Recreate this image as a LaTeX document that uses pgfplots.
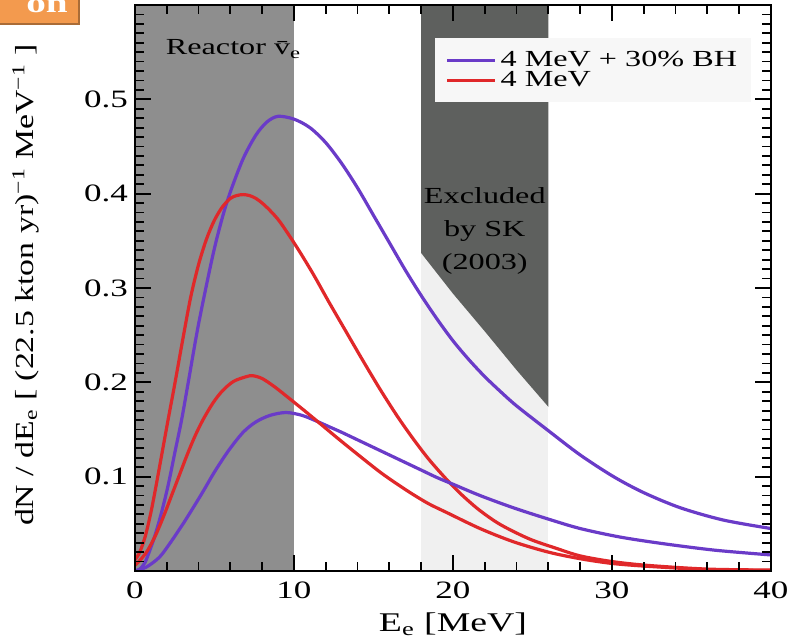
\documentclass[border=0pt]{standalone}
\usepackage{fontspec}
\setmainfont[FakeStretch=1.4]{Liberation Serif}
\newfontfamily\ylabfont[FakeStretch=1.3]{Liberation Serif}
\usepackage{pgfplots}
\usepackage{pgfplotstable}
\pgfplotsset{compat=1.18}

\definecolor{bhpurple}{HTML}{6A3BC8}
\definecolor{snred}{HTML}{E0282A}
\definecolor{reactorgray}{HTML}{8E8E8E}
\definecolor{skdark}{HTML}{5E605E}
\definecolor{sklight}{HTML}{F0F0F0}
\definecolor{tagorange}{HTML}{F39A4E}

% 4 MeV + 30% BH, upper curve
\pgfplotstableread{
x y
0 0
0.3 0.002
0.63 0.009
1.0 0.025
1.3 0.040
1.7 0.064
2.1 0.092
2.5 0.125
2.94 0.161
3.35 0.200
4.0 0.262
4.9 0.335
5.5 0.375
6.0 0.402
6.8 0.437
7.6 0.462
8.3 0.476
9.0 0.482
10 0.479
11 0.470
12 0.454
13 0.432
14 0.406
15 0.377
16 0.348
17 0.319
18 0.292
19 0.267
20 0.244
21 0.224
22 0.206
23 0.190
24 0.175
25.9 0.150
28 0.123
30.1 0.100
32 0.083
34.3 0.067
37 0.054
40 0.045
}\purpleHigh

% 4 MeV + 30% BH, lower curve
\pgfplotstableread{
x y
0 0
0.7 0.004
1.5 0.014
2.1 0.027
3.1 0.052
4.2 0.082
5.0 0.105
5.9 0.128
6.8 0.147
7.6 0.158
8.5 0.165
9.5 0.168
10.5 0.165
11.4 0.159
12.2 0.153
13 0.147
14 0.139
15 0.131
16 0.123
17 0.115
18 0.107
19 0.099
20 0.092
21.7 0.080
23.8 0.067
26 0.055
28 0.045
30.5 0.036
33.2 0.029
36.5 0.022
40 0.017
}\purpleLow

% 4 MeV, upper curve
\pgfplotstableread{
x y
0 0.012
0.3 0.020
0.65 0.037
1.0 0.062
1.3 0.088
1.7 0.125
2.1 0.162
2.5 0.198
3.0 0.245
3.5 0.290
4.0 0.325
4.5 0.352
5.0 0.372
5.5 0.386
6.0 0.395
6.4 0.398
6.8 0.399
7.2 0.398
7.6 0.395
8.0 0.390
8.5 0.382
9.12 0.370
10.15 0.344
11.2 0.315
12.2 0.285
13.3 0.253
14.3 0.224
15.4 0.193
16.5 0.164
17.5 0.140
18.5 0.118
19.6 0.097
20.6 0.080
21.7 0.064
23 0.049
24.8 0.034
26.5 0.024
28 0.016
30 0.010
32.2 0.006
36 0.002
40 0.001
}\redHigh

% 4 MeV, lower curve
\pgfplotstableread{
x y
0 0.006
0.4 0.013
0.8 0.022
1.3 0.038
1.8 0.058
2.3 0.080
2.8 0.102
3.3 0.124
3.8 0.144
4.3 0.161
4.9 0.178
5.5 0.191
6.2 0.201
7.0 0.206
7.4 0.207
8.0 0.204
8.8 0.195
9.7 0.183
10.8 0.168
11.8 0.154
12.8 0.140
13.9 0.125
15.4 0.105
16.5 0.092
17.5 0.081
18.5 0.071
19.6 0.062
21.7 0.045
23.8 0.031
26 0.020
28 0.013
30 0.008
32.2 0.005
36 0.0015
40 0.0005
}\redLow

\begin{document}
\begin{tikzpicture}
\useasboundingbox (-67.5pt,-35pt) rectangle (327pt,285.5pt);
\begin{axis}[
  at={(0,0)}, anchor=south west,
  scale only axis,
  width=318pt, height=283pt,
  xmin=0, xmax=40, ymin=0, ymax=0.6,
  xtick={0,10,20,30,40},
  ytick={0,0.1,0.2,0.3,0.4,0.5,0.6},
  yticklabels={,0.1,0.2,0.3,0.4,0.5,},
  minor x tick num=4,
  minor y tick num=9,
  tick align=inside,
  major tick length=8pt,
  minor tick length=4.5pt,
  every tick/.style={black, line width=0.9pt},
  axis line style={line width=1pt},
  /pgf/number format/assume math mode=true,
  ticklabel style={font=\fontsize{12.5}{13}\selectfont},
  xticklabel style={yshift=-2pt},
  xlabel={E\textsubscript{e} [MeV]},
  xlabel style={font=\fontsize{13.5}{14}\selectfont, at={(axis description cs:0.5,0)}, anchor=center, yshift=-26.5pt},
  ylabel={dN / dE\textsubscript{e} [ (22.5 kton yr)\textsuperscript{−1} MeV\textsuperscript{−1} ]},
  ylabel style={font=\ylabfont\fontsize{13}{14}\selectfont, at={(axis description cs:-0.172,0.505)}, anchor=center},
  axis on top,
  legend style={at={(axis cs:18.87,0.565)}, anchor=north west, fill=gray!6, draw=none,
    font=\fontsize{11.5}{10}\selectfont, inner xsep=5pt, inner ysep=6pt,
    nodes={inner ysep=0pt, text height=7.8pt, text depth=2.2pt}},
  legend cell align=left,
  legend image code/.code={\draw[#1] (0pt,0pt) -- (24pt,0pt);},
]
% shaded regions
\addplot[fill=reactorgray, draw=none, forget plot] coordinates {(0,0) (10,0) (10,0.6) (0,0.6)} -- cycle;
\addplot[fill=sklight, draw=none, forget plot] coordinates {(18,0) (26,0) (26,0.6) (18,0.6)} -- cycle;
\addplot[fill=skdark, draw=none, forget plot] coordinates {(18,0.6) (26,0.6) (26,0.174) (24,0.213) (22,0.254) (20,0.294) (18,0.337)} -- cycle;

% spectra
\addplot[bhpurple, line width=1.6pt, smooth] table {\purpleHigh};
\addlegendentry{4 MeV + 30\% BH}
\addplot[snred, line width=1.6pt, smooth] table {\redHigh};
\addlegendentry{4 MeV}
\addplot[bhpurple, line width=1.6pt, smooth, forget plot] table {\purpleLow};
\addplot[snred, line width=1.6pt, smooth, forget plot] table {\redLow};

\node[font=\fontsize{11.5}{12}\selectfont, anchor=west] at (axis cs:1.5,0.553) {Reactor \={v}\textsubscript{e}};
\node[font=\fontsize{11.5}{16.5}\selectfont, align=center, anchor=north] at (axis cs:22,0.414) {Excluded\\by SK\\(2003)};
\end{axis}
% corner tag
\fill[tagorange, draw=tagorange!70!black, line width=1pt] (-70pt,273.5pt) rectangle (-28pt,292pt);
\node[white, font=\bfseries\fontsize{14}{14}\selectfont, anchor=base] at (-44pt,279pt) {on};
\end{tikzpicture}
\end{document}
